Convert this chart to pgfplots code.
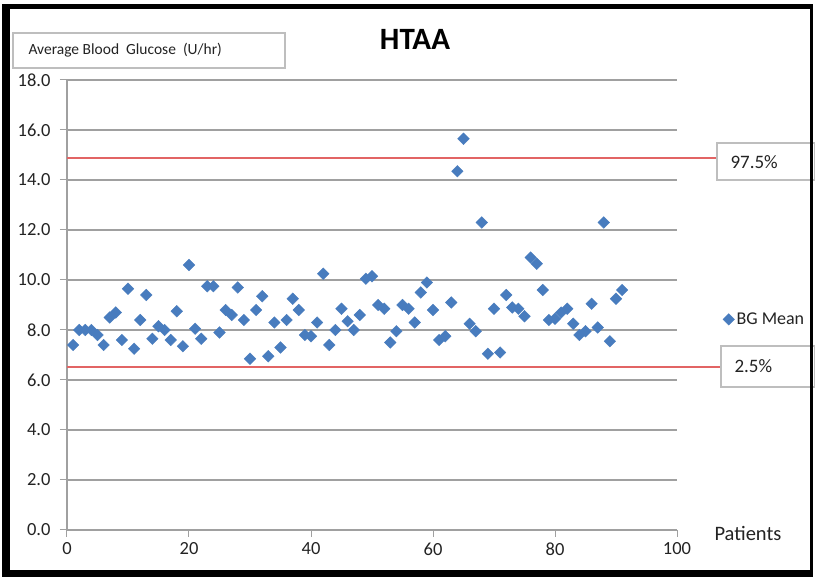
\documentclass[border=0pt]{standalone}
\usepackage{fontspec}
\setmainfont{Carlito}
\usepackage{pgfplots}
\pgfplotsset{compat=1.18}
\definecolor{bgblue}{RGB}{72,124,190}
\definecolor{gridgray}{RGB}{160,160,160}
\definecolor{reflinered}{RGB}{226,100,100}
\definecolor{boxgray}{RGB}{190,190,190}
\definecolor{txt}{RGB}{35,35,35}
\begin{document}
\begin{tikzpicture}[x=1pt,y=1pt]
\fill[white] (-67,-48) rectangle (748,530);
\begin{axis}[
  scale only axis, width=610pt, height=450pt,
  xmin=0, xmax=100, ymin=0, ymax=18,
  axis lines=left,
  axis line style={gridgray, line width=1.3pt, -},
  xtick={0,20,...,100}, ytick={0,2,...,18},
  ymajorgrids, grid style={gridgray, line width=1.7pt},
  tick align=outside, major tick length=7pt,
  tick style={gridgray, line width=1pt},
  /pgf/number format/assume math mode=true,
  yticklabel style={/pgf/number format/fixed, /pgf/number format/fixed zerofill, /pgf/number format/precision=1, xshift=-6pt},
  xticklabel style={yshift=-2pt},
  ticklabel style={font=\fontsize{18.5}{18.5}\selectfont, text=txt},
  clip=false,
  legend style={draw=none, fill=none, at={(1.075,0.468)}, anchor=west,
    font=\fontsize{18}{18}\selectfont, text=txt, inner sep=0pt},
  legend cell align=left,
]
\addplot[only marks, mark=square*, mark size=4.1pt,
  mark options={rotate=45, fill=bgblue, draw=bgblue}] coordinates {
(1,7.4) (2,8.0) (3,8.0) (4,8.0) (5,7.8) (6,7.4) (7,8.5) (8,8.7) (9,7.6) (10,9.65)
(11,7.25) (12,8.4) (13,9.4) (14,7.65) (15,8.15) (16,8.0) (17,7.6) (18,8.75) (19,7.35) (20,10.6)
(21,8.05) (22,7.65) (23,9.75) (24,9.75) (25,7.9) (26,8.8) (27,8.6) (28,9.7) (29,8.4) (30,6.85)
(31,8.8) (32,9.35) (33,6.95) (34,8.3) (35,7.3) (36,8.4) (37,9.25) (38,8.8) (39,7.8) (40,7.75)
(41,8.3) (42,10.25) (43,7.4) (44,8.0) (45,8.85) (46,8.35) (47,8.0) (48,8.6) (49,10.05) (50,10.15)
(51,9.0) (52,8.85) (53,7.5) (54,7.95) (55,9.0) (56,8.85) (57,8.3) (58,9.5) (59,9.9) (60,8.8)
(61,7.6) (62,7.75) (63,9.1) (64,14.35) (65,15.65) (66,8.25) (67,7.95) (68,12.3) (69,7.05) (70,8.85)
(71,7.1) (72,9.4) (73,8.9) (74,8.85) (75,8.55) (76,10.9) (77,10.65) (78,9.6) (79,8.4) (80,8.45)
(81,8.7) (82,8.85) (83,8.25) (84,7.8) (85,7.95) (86,9.05) (87,8.1) (88,12.3) (89,7.55) (90,9.25)
(91,9.6)
};
\addlegendentry{BG Mean}
\addplot[color=reflinered, draw=reflinered, mark=none, line width=1.7pt, forget plot] coordinates {(0,14.88) (106.6,14.88)};
\addplot[color=reflinered, draw=reflinered, mark=none, line width=1.7pt, forget plot] coordinates {(0,6.53) (107.2,6.53)};
\end{axis}
% title
\node[font=\fontsize{31}{31}\selectfont\bfseries, text=black] at (348,491) {HTAA};
% y title box
\draw[boxgray, line width=1.2pt, fill=white] (-54,462) rectangle (218,497);
\node[anchor=west, font=\fontsize{15.5}{15.5}\selectfont, text=txt] at (-42,480) {Average Blood\ \ Glucose\ \ (U/hr)};
% percent boxes
\draw[boxgray, line width=1.2pt, fill=white] (650,350) rectangle (748,387);
\node[anchor=west, font=\fontsize{19}{19}\selectfont, text=txt] at (660,368) {97.5\%};
\draw[boxgray, line width=1.2pt, fill=white] (654,143) rectangle (748,184);
\node[anchor=west, font=\fontsize{19}{19}\selectfont, text=txt] at (664,164) {2.5\%};
% x axis title
\node[anchor=west, font=\fontsize{20.5}{20.5}\selectfont, text=txt] at (644,-3) {Patients};
% outer frame
\fill[black] (-65,-47) rectangle (-57,526);
\fill[black] (-65,521) rectangle (746,526);
\fill[black] (-65,-47) rectangle (746,-40);
\fill[black] (743,-47) rectangle (746,526);
\pgfresetboundingbox
\useasboundingbox (-67,-48) rectangle (748,530);
\end{tikzpicture}
\end{document}
